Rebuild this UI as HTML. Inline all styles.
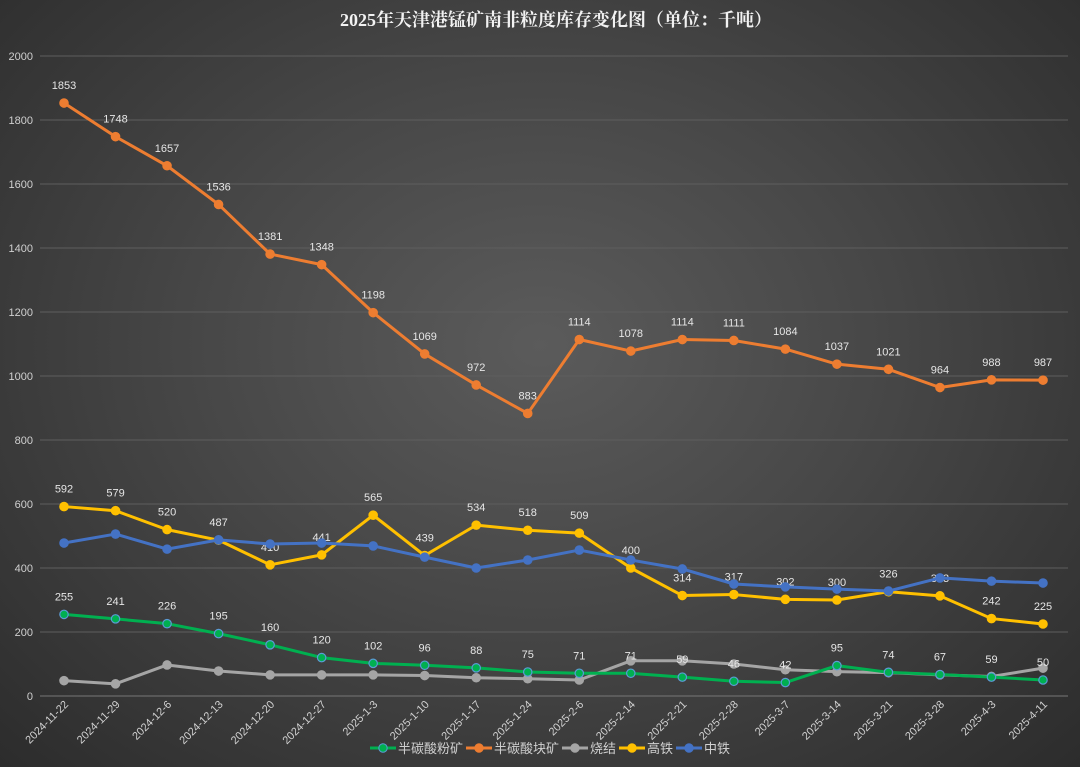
<!DOCTYPE html>
<html><head><meta charset="utf-8"><style>
html,body{margin:0;padding:0;width:1080px;height:767px;overflow:hidden;}
body{background:radial-gradient(ellipse at 50% 45%,#5b5b5b 0%,#474747 45%,#2c2c2c 100%);font-family:"Liberation Sans","Noto Sans CJK SC",sans-serif;}
svg{position:absolute;left:0;top:0;}
</style></head><body>
<svg id="chart" width="1080" height="767" xmlns="http://www.w3.org/2000/svg">
<text x="556" y="26" text-anchor="middle" fill="#f2f2f2" font-size="18" font-weight="bold" font-family="Liberation Serif,Noto Serif CJK SC,serif">2025年天津港锰矿南非粒度库存变化图（单位：千吨）</text>
<g id="grid"></g><g id="yticks"></g><g id="xticks"></g><g id="series"></g><g id="legend"></g>
</svg>
<script>
const categories=["2024-11-22","2024-11-29","2024-12-6","2024-12-13","2024-12-20","2024-12-27","2025-1-3","2025-1-10","2025-1-17","2025-1-24","2025-2-6","2025-2-14","2025-2-21","2025-2-28","2025-3-7","2025-3-14","2025-3-21","2025-3-28","2025-4-3","2025-4-11"];
const yTicks=[0,200,400,600,800,1000,1200,1400,1600,1800,2000];
const fenKuang=[255,241,226,195,160,120,102,96,88,75,71,71,59,46,42,95,74,67,59,50];
const kuaiKuang=[1853,1748,1657,1536,1381,1348,1198,1069,972,883,1114,1078,1114,1111,1084,1037,1021,964,988,987];
const shaoJie=[48,38,97,78,66,66,66,64,57,54,50,110,110,100,82,76,73,66,61,87];
const gaoTie=[592,579,520,487,410,441,565,439,534,518,509,400,314,317,302,300,326,313,242,225];
const zhongTie=[478,506,459,488,475,478,469,434,400,425,456,425,397,350,341,334,328,369,359,353];
const seriesNames=["半碳酸粉矿","半碳酸块矿","烧结","高铁","中铁"];
const NS="http://www.w3.org/2000/svg";
const x0=64,x1=1043,yb=696,yt=56,ymax=2000;
const X=i=>x0+(x1-x0)*i/(categories.length-1);
const Y=v=>yb-(yb-yt)*v/ymax;
function el(t,a,p){const e=document.createElementNS(NS,t);for(const k in a)e.setAttribute(k,a[k]);p.appendChild(e);return e;}
const grid=document.getElementById('grid'),yt_=document.getElementById('yticks'),xt=document.getElementById('xticks'),sg=document.getElementById('series'),lg=document.getElementById('legend');
yTicks.forEach(v=>{
 const l=el('line',{x1:40,x2:1068,y1:Y(v),y2:Y(v),stroke:v===0?'#777':'#5e5e5e','stroke-width':1},grid);
 
 
 const t=el('text',{x:33,y:Y(v)+4,'text-anchor':'end',fill:'#d0d0d0','font-size':11},yt_);
 t.textContent=v;
 
 
});
categories.forEach((c,i)=>{
 const t=el('text',{x:X(i)+5,y:705,'text-anchor':'end',fill:'#d0d0d0','font-size':11,transform:`rotate(-45 ${X(i)+5} 705)`},xt);
 t.textContent=c;
 
 
});
const defs=[
 {data:gaoTie,color:'#ffc000',labels:true,name:'series-gaotie'},
 {data:zhongTie,color:'#4472c4',labels:false,name:'series-zhongtie'},
 {data:shaoJie,color:'#a5a5a5',labels:false,name:'series-shaojie'},
 {data:fenKuang,color:'#00b050',labels:true,name:'series-fenkuang',ring:'#5b9bd5'},
 {data:kuaiKuang,color:'#ed7d31',labels:true,name:'series-kuaikuang'}
];
defs.forEach(d=>{
 const g=el('g',{},sg);
 
 
 const pl=el('polyline',{points:d.data.map((v,i)=>X(i)+','+Y(v)).join(' '),fill:'none',stroke:d.color,'stroke-width':3,'stroke-linejoin':'round'},g);
 
 
 d.data.forEach((v,i)=>{
  const c=el('circle',{cx:X(i),cy:Y(v),r:4.2,fill:d.color,stroke:d.ring||d.color,'stroke-width':1.2},g);
  
  
  if(d.labels){
   const t=el('text',{x:X(i),y:Y(v)-14,'text-anchor':'middle',fill:'#e6e6e6','font-size':11},g);
   t.textContent=v;
   
   
  }
 });
});
const lcolors=['#00b050','#ed7d31','#a5a5a5','#ffc000','#4472c4'];
let lx=370;
seriesNames.forEach((n,i)=>{
 const g=el('g',{},lg);
 
 
 el('line',{x1:lx,x2:lx+26,y1:748,y2:748,stroke:lcolors[i],'stroke-width':3},g);
 el('circle',{cx:lx+13,cy:748,r:4.2,fill:lcolors[i],stroke:i===0?'#5b9bd5':lcolors[i]},g);
 const t=el('text',{x:lx+28,y:753,fill:'#d0d0d0','font-size':13},g);
 t.textContent=n;
 lx+=28+n.length*13+3;
});
</script>
</body></html>
